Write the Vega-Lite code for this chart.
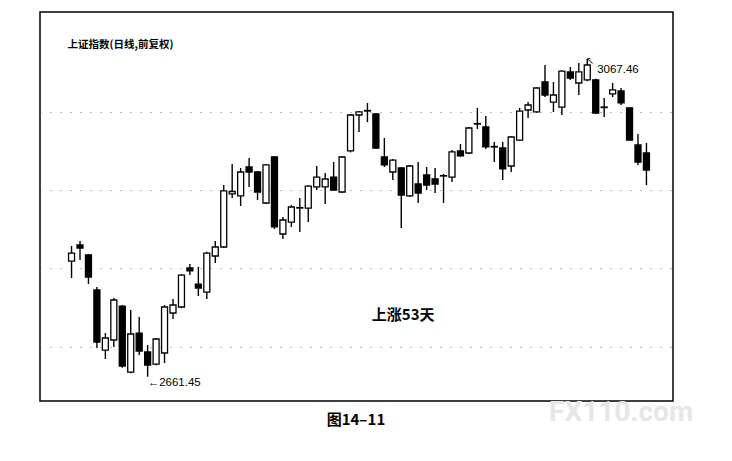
{
  "$schema": "https://vega.github.io/schema/vega-lite/v6.json",
  "width": 633,
  "height": 389,
  "autosize": {"type": "none"},
  "padding": {"left": 40, "top": 12, "right": 59, "bottom": 60},
  "background": "white",
  "config": {"view": {"stroke": "black", "strokeWidth": 1.5}},
  "datasets": {
    "candles": [
      {"d":1,"o":2809.2,"h":2828.4,"l":2787.5,"c":2819.4},
      {"d":2,"o":2829.7,"h":2834.8,"l":2810.5,"c":2825.8},
      {"d":3,"o":2816.9,"h":2818.0,"l":2779.8,"c":2788.8},
      {"d":4,"o":2772.2,"h":2776.0,"l":2698.1,"c":2705.7},
      {"d":5,"o":2695.5,"h":2717.2,"l":2684.0,"c":2710.9},
      {"d":6,"o":2708.3,"h":2762.0,"l":2699.4,"c":2759.4},
      {"d":7,"o":2751.7,"h":2753.0,"l":2673.0,"c":2675.1},
      {"d":8,"o":2667.4,"h":2746.6,"l":2666.0,"c":2716.0},
      {"d":9,"o":2717.2,"h":2737.7,"l":2689.1,"c":2694.3},
      {"d":10,"o":2693.0,"h":2701.9,"l":2661.45,"c":2676.4},
      {"d":11,"o":2677.6,"h":2711.0,"l":2676.0,"c":2709.6},
      {"d":12,"o":2691.7,"h":2753.0,"l":2678.9,"c":2750.5},
      {"d":13,"o":2742.8,"h":2760.7,"l":2735.1,"c":2753.0},
      {"d":14,"o":2750.5,"h":2792.6,"l":2749.0,"c":2791.3},
      {"d":15,"o":2800.3,"h":2805.4,"l":2791.3,"c":2796.5},
      {"d":16,"o":2779.8,"h":2801.6,"l":2764.5,"c":2774.7},
      {"d":17,"o":2769.6,"h":2821.0,"l":2760.7,"c":2819.4},
      {"d":18,"o":2815.6,"h":2834.8,"l":2806.7,"c":2827.1},
      {"d":19,"o":2827.1,"h":2906.3,"l":2826.0,"c":2898.7},
      {"d":20,"o":2895.0,"h":2933.1,"l":2889.7,"c":2898.0},
      {"d":21,"o":2892.3,"h":2928.0,"l":2879.5,"c":2922.9},
      {"d":22,"o":2929.3,"h":2940.8,"l":2903.8,"c":2922.9},
      {"d":23,"o":2922.9,"h":2924.0,"l":2887.2,"c":2897.4},
      {"d":24,"o":2883.3,"h":2933.0,"l":2882.0,"c":2931.9},
      {"d":25,"o":2942.1,"h":2943.4,"l":2850.1,"c":2852.7},
      {"d":26,"o":2843.7,"h":2865.4,"l":2837.3,"c":2861.6},
      {"d":27,"o":2859.0,"h":2880.8,"l":2852.7,"c":2878.2},
      {"d":28,"o":2876.9,"h":2889.7,"l":2846.3,"c":2877.5},
      {"d":29,"o":2876.9,"h":2906.0,"l":2859.0,"c":2905.0},
      {"d":30,"o":2903.8,"h":2930.6,"l":2899.9,"c":2916.5},
      {"d":31,"o":2903.8,"h":2921.6,"l":2882.0,"c":2914.0},
      {"d":32,"o":2916.5,"h":2935.7,"l":2899.0,"c":2899.9},
      {"d":33,"o":2897.4,"h":2943.0,"l":2896.0,"c":2942.1},
      {"d":34,"o":2949.8,"h":2997.0,"l":2948.0,"c":2995.7},
      {"d":35,"o":2995.7,"h":3000.8,"l":2974.0,"c":2999.6},
      {"d":36,"o":3000.8,"h":3011.1,"l":2986.6,"c":3001.5},
      {"d":37,"o":2997.0,"h":2998.0,"l":2953.0,"c":2953.6},
      {"d":38,"o":2942.1,"h":2966.3,"l":2929.3,"c":2931.9},
      {"d":39,"o":2922.9,"h":2939.5,"l":2912.7,"c":2938.2},
      {"d":40,"o":2928.0,"h":2929.0,"l":2851.4,"c":2893.5},
      {"d":41,"o":2892.3,"h":2932.0,"l":2891.0,"c":2930.6},
      {"d":42,"o":2907.6,"h":2935.7,"l":2883.3,"c":2896.1},
      {"d":43,"o":2919.1,"h":2929.3,"l":2899.9,"c":2906.3},
      {"d":44,"o":2914.0,"h":2928.0,"l":2896.1,"c":2907.6},
      {"d":45,"o":2917.8,"h":2920.4,"l":2883.3,"c":2918.3},
      {"d":46,"o":2916.5,"h":2951.0,"l":2910.2,"c":2948.5},
      {"d":47,"o":2949.8,"h":2958.7,"l":2942.1,"c":2943.4},
      {"d":48,"o":2947.2,"h":2980.4,"l":2946.0,"c":2979.1},
      {"d":49,"o":2984.2,"h":3004.7,"l":2977.9,"c":2984.8},
      {"d":50,"o":2980.4,"h":2994.5,"l":2952.3,"c":2954.9},
      {"d":51,"o":2954.9,"h":2961.2,"l":2935.7,"c":2955.5},
      {"d":52,"o":2953.6,"h":2961.2,"l":2912.7,"c":2926.8},
      {"d":53,"o":2930.6,"h":2968.5,"l":2922.9,"c":2967.6},
      {"d":54,"o":2963.7,"h":3004.7,"l":2963.0,"c":3000.8},
      {"d":55,"o":3002.1,"h":3012.3,"l":2991.9,"c":3008.5},
      {"d":56,"o":2999.6,"h":3031.0,"l":2998.5,"c":3030.2},
      {"d":57,"o":3037.9,"h":3059.6,"l":3018.7,"c":3021.3},
      {"d":58,"o":3012.3,"h":3037.9,"l":2999.6,"c":3021.3},
      {"d":59,"o":3005.9,"h":3053.0,"l":2995.7,"c":3051.9},
      {"d":60,"o":3050.7,"h":3057.1,"l":3040.5,"c":3043.0},
      {"d":61,"o":3036.6,"h":3062.2,"l":3021.3,"c":3050.7},
      {"d":62,"o":3040.5,"h":3067.46,"l":3039.0,"c":3059.6},
      {"d":63,"o":3040.5,"h":3042.0,"l":2997.0,"c":2998.3},
      {"d":64,"o":3005.9,"h":3017.5,"l":2993.2,"c":3005.2},
      {"d":65,"o":3022.6,"h":3036.6,"l":3018.7,"c":3027.7},
      {"d":66,"o":3026.4,"h":3030.2,"l":3008.5,"c":3011.1},
      {"d":67,"o":3004.7,"h":3006.0,"l":2963.0,"c":2963.7},
      {"d":68,"o":2957.4,"h":2971.5,"l":2931.9,"c":2935.7},
      {"d":69,"o":2947.2,"h":2960.0,"l":2906.3,"c":2925.5}
    ]
  },
  "layer": [
    {
      "data": {"name": "candles"},
      "mark": {"type": "rule", "color": "black", "strokeWidth": 1.4},
      "encoding": {
        "x": {"field": "d", "type": "quantitative", "scale": {"domain": [-2.14, 71.55], "nice": false, "zero": false}, "axis": null},
        "y": {"field": "l", "type": "quantitative", "scale": {"domain": [2630.4, 3127.3], "nice": false, "zero": false},
              "axis": {"values": [2700, 2800, 2900, 3000], "grid": true, "gridDash": [1, 9], "gridColor": "#777", "gridWidth": 1, "labels": false, "ticks": false, "domain": false, "title": null}},
        "y2": {"field": "h"}
      }
    },
    {
      "data": {"name": "candles"},
      "mark": {"type": "bar", "size": 6, "stroke": "black", "strokeWidth": 1.3},
      "encoding": {
        "x": {"field": "d", "type": "quantitative"},
        "y": {"field": "o", "type": "quantitative"},
        "y2": {"field": "c"},
        "fill": {"condition": {"test": "datum.c >= datum.o", "value": "white"}, "value": "black"}
      }
    },
    {
      "data": {"values": [{"d": 0.53, "p": 3085.2, "t": "上证指数(日线,前复权)"}]},
      "mark": {"type": "text", "align": "left", "baseline": "middle", "font": "Noto Sans CJK SC", "fontWeight": "bold", "fontSize": 10.5, "color": "black"},
      "encoding": {"x": {"field": "d", "type": "quantitative"}, "y": {"field": "p", "type": "quantitative"}, "text": {"field": "t"}}
    },
    {
      "data": {"values": [{"d": 10.0, "p": 2653.4, "t": "←2661.45"}, {"d": 63.17, "p": 3053.2, "t": "3067.46"}]},
      "mark": {"type": "text", "align": "left", "baseline": "middle", "font": "Liberation Sans", "fontSize": 11.5, "color": "black"},
      "encoding": {"x": {"field": "d", "type": "quantitative"}, "y": {"field": "p", "type": "quantitative"}, "text": {"field": "t"}}
    },
    {
      "data": {"values": [{"d": 62.35, "p": 3064.7, "t": "↖"}]},
      "mark": {"type": "text", "align": "center", "baseline": "middle", "font": "DejaVu Sans", "fontSize": 10, "color": "black"},
      "encoding": {"x": {"field": "d", "type": "quantitative"}, "y": {"field": "p", "type": "quantitative"}, "text": {"field": "t"}}
    },
    {
      "data": {"values": [{"d": 40.23, "p": 2740.2, "t": "上涨53天"}, {"d": 34.64, "p": 2606.1, "t": "图14–11"}]},
      "mark": {"type": "text", "align": "center", "baseline": "middle", "font": "Noto Sans CJK SC", "fontWeight": "bold", "fontSize": 15, "color": "black"},
      "encoding": {"x": {"field": "d", "type": "quantitative"}, "y": {"field": "p", "type": "quantitative"}, "text": {"field": "t"}}
    },
    {
      "data": {"values": [{"d": 66.0, "p": 2615.0, "t": "FX110.com"}]},
      "mark": {"type": "text", "align": "center", "baseline": "middle", "font": "Roboto", "fontWeight": "bold", "fontSize": 28, "color": "#e6e6e6"},
      "encoding": {"x": {"field": "d", "type": "quantitative"}, "y": {"field": "p", "type": "quantitative"}, "text": {"field": "t"}}
    }
  ]
}
